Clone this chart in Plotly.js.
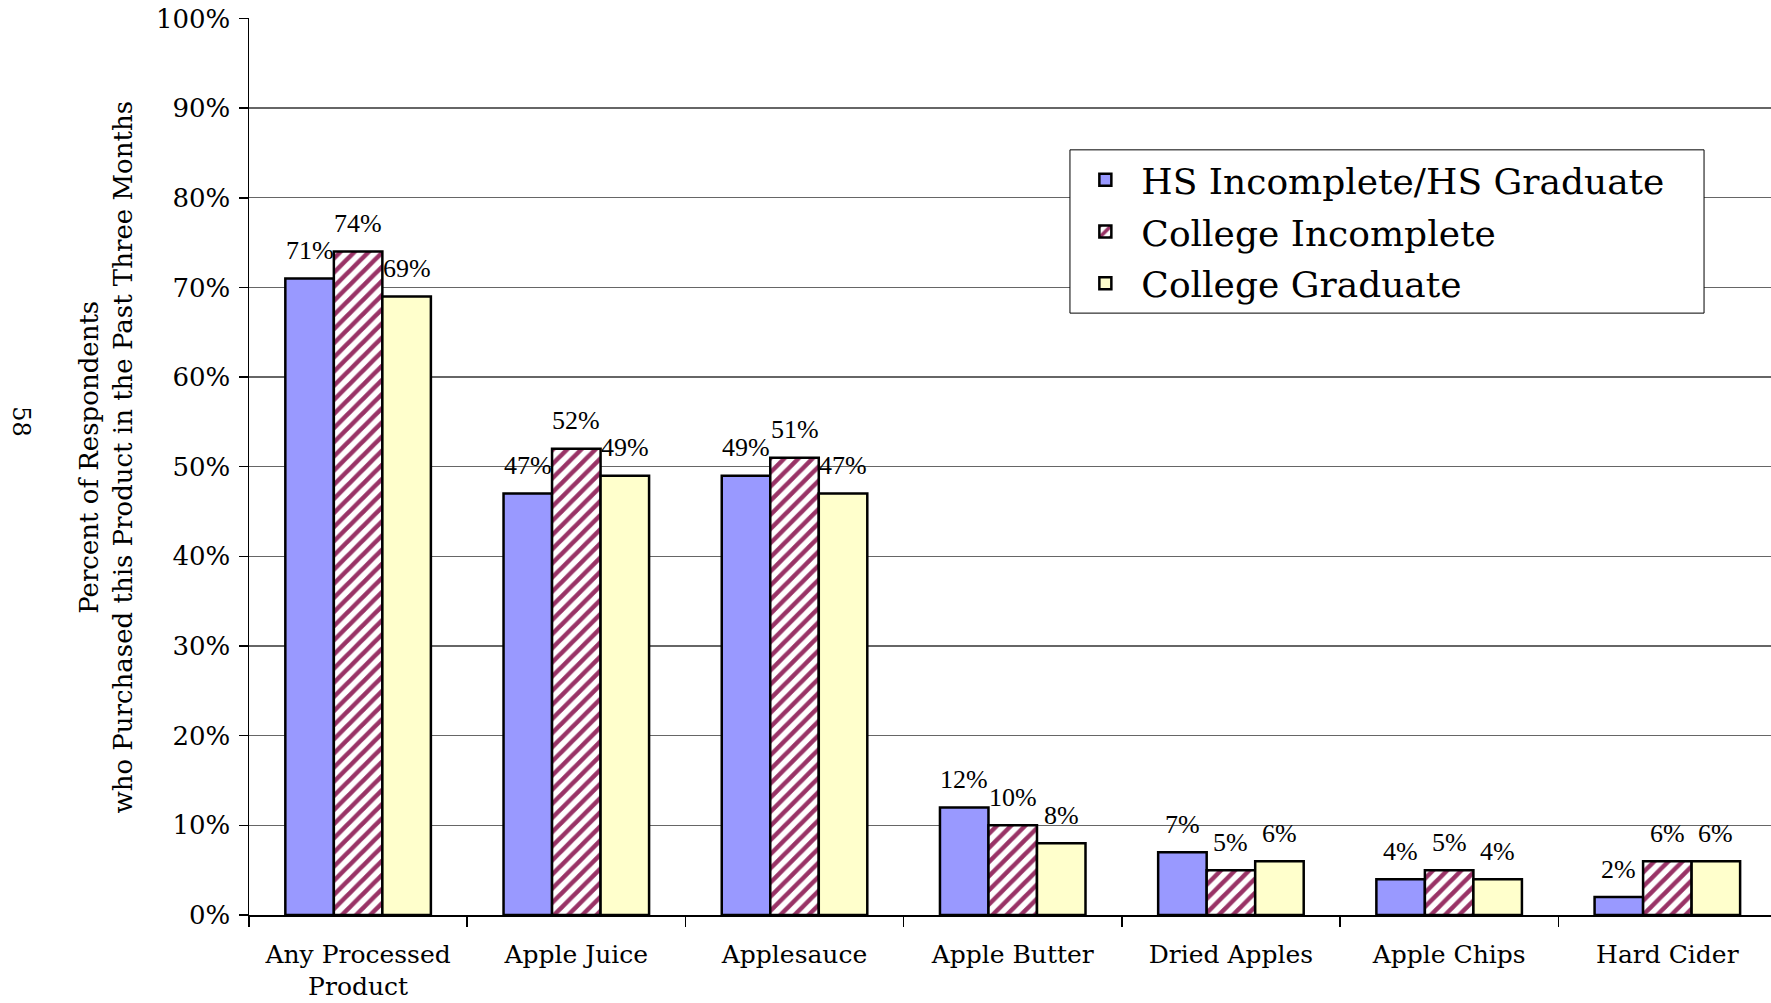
<!DOCTYPE html>
<html>
<head>
<meta charset="utf-8">
<script src="https://cdn.plot.ly/plotly-3.0.1.min.js"></script>
<style>
  html, body { margin: 0; padding: 0; background: #fff; }
  #chart { width: 1771px; height: 1003px; }
</style>
</head>
<body>
<div id="chart"></div>
<script>
const categories = ["Any Processed<br>Product", "Apple Juice", "Applesauce", "Apple Butter", "Dried Apples", "Apple Chips", "Hard Cider"];
const seriesNames = ["HS Incomplete/HS Graduate", "College Incomplete", "College Graduate"];
const hsValues = [71, 47, 49, 12, 7, 4, 2];
const collegeIncompleteValues = [74, 52, 51, 10, 5, 5, 6];
const collegeGraduateValues = [69, 49, 47, 8, 6, 4, 6];
const yTickValues = [0, 10, 20, 30, 40, 50, 60, 70, 80, 90, 100];
const yTitle = "Percent of Respondents<br>who Purchased this Product in the Past Three Months";

const serif = "DejaVu Serif, serif";
const labelFont = "Liberation Serif, serif";
const allSeries = [hsValues, collegeIncompleteValues, collegeGraduateValues];
const bargap = 0.333;

const traces = [
  {
    type: "bar", name: seriesNames[0], x: categories, y: hsValues,
    marker: { color: "#9999FF", line: { color: "#000", width: 2.5 } },
    legendgroup: "a"
  },
  {
    type: "bar", name: seriesNames[1], x: categories, y: collegeIncompleteValues,
    marker: {
      color: "#FFFFFF",
      line: { color: "#000", width: 2.5 },
      pattern: { shape: "/", fgcolor: "#993366", bgcolor: "#FFFFFF", size: 10, solidity: 0.45 }
    },
    legendgroup: "b"
  },
  {
    type: "bar", name: seriesNames[2], x: categories, y: collegeGraduateValues,
    marker: { color: "#FFFFCC", line: { color: "#000", width: 2.5 } },
    legendgroup: "c"
  }
];
traces.forEach(t => { t.hoverinfo = "skip"; });

const annotations = [];
const barW = (1 - bargap) / allSeries.length;
allSeries.forEach((vals, s) => {
  vals.forEach((v, i) => {
    annotations.push({
      xref: "x", yref: "y",
      x: i + (s - (allSeries.length - 1) / 2) * barW,
      y: v,
      text: v + "%",
      showarrow: false,
      xanchor: "center", yanchor: "middle",
      yshift: 28,
      font: { family: labelFont, size: 26, color: "#000" }
    });
  });
});
annotations.push({
  xref: "paper", yref: "paper",
  x: -0.160, y: 0.55,
  text: "58", showarrow: false, textangle: 90,
  font: { family: serif, size: 24, color: "#000" }
});
annotations.push({
  xref: "paper", yref: "paper",
  x: -0.094, y: 0.511,
  xanchor: "center", yanchor: "middle",
  text: yTitle, showarrow: false, textangle: -90,
  font: { family: serif, size: 26, color: "#000" }
});

const layout = {
  width: 1771, height: 1003,
  margin: { l: 249, r: 0, t: 18, b: 88 },
  paper_bgcolor: "#fff", plot_bgcolor: "#fff",
  barmode: "group", bargap: bargap, bargroupgap: 0,
  showlegend: true,
  legend: {
    x: 0.539, y: 0.853, xanchor: "left", yanchor: "top",
    bgcolor: "rgba(0,0,0,0)", borderwidth: 0,
    font: { family: serif, size: 36, color: "#000" },
    traceorder: "grouped", tracegroupgap: 2,
    itemwidth: 62
  },
  shapes: [{
    type: "rect", xref: "paper", yref: "paper", layer: "above",
    x0: 0.5394, x1: 0.956, y0: 0.671, y1: 0.853,
    fillcolor: "#fff", line: { color: "#000", width: 1 }
  }],
  xaxis: {
    type: "category",
    range: [-0.5, 6.475],
    tickson: "boundaries",
    ticks: "outside", ticklen: 10, tickcolor: "#000", tickwidth: 1.5,
    showline: true, linecolor: "#000", linewidth: 1.5,
    showgrid: false,
    ticklabelstandoff: 16,
    tickfont: { family: serif, size: 25, color: "#000" }
  },
  yaxis: {
    range: [0, 100.05],
    tickvals: yTickValues,
    ticktext: yTickValues.map(v => v + "%"),
    ticks: "outside", ticklen: 9, tickcolor: "#000", tickwidth: 1.5,
    showline: true, linecolor: "#000", linewidth: 1.5,
    showgrid: true, gridcolor: "#666", gridwidth: 1.3,
    zeroline: false,
    ticklabelstandoff: 3,
    tickfont: { family: serif, size: 26, color: "#000" }
  },
  annotations: annotations
};

Plotly.newPlot("chart", traces, layout, { staticPlot: true, displayModeBar: false });
</script>
</body>
</html>
